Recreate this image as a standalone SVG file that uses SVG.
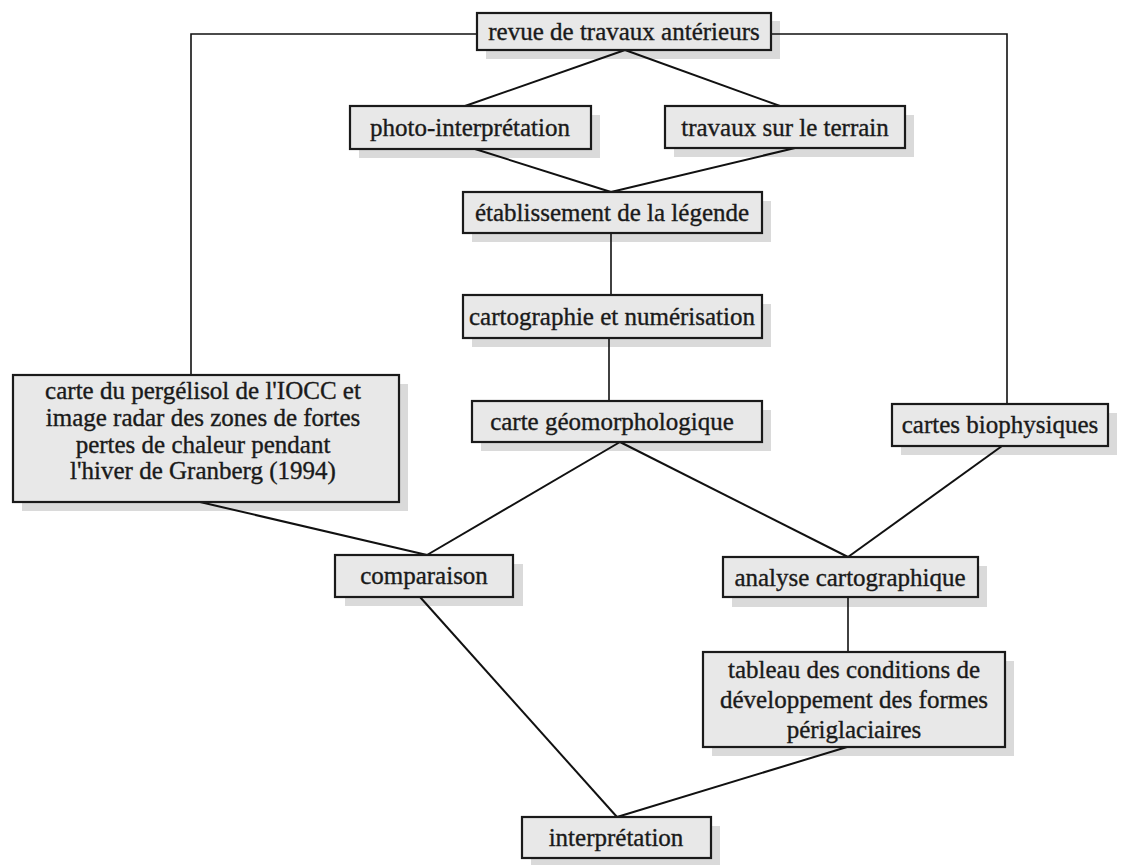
<svg xmlns="http://www.w3.org/2000/svg" width="1122" height="865" viewBox="0 0 1122 865">
<style>
.sh{fill:#dadada}
.bx{fill:#e8e8e8;stroke:#1a1a1a;stroke-width:2.2}
.t{font-family:"Liberation Serif","Times New Roman",serif;font-size:25px;fill:#1a1a1a;stroke:#1a1a1a;stroke-width:0.35;text-anchor:middle}
.c{stroke:#111;stroke-width:2;fill:none}
.b{stroke:#111;stroke-width:1.6;fill:none}
</style>
<rect width="1122" height="865" fill="#fff"/>
<g id="shadows">
<rect class="sh" x="486" y="21" width="294" height="38"/>
<rect class="sh" x="359" y="115" width="241" height="43"/>
<rect class="sh" x="674" y="115" width="240" height="42"/>
<rect class="sh" x="472" y="201" width="299" height="41"/>
<rect class="sh" x="472" y="304" width="299" height="43"/>
<rect class="sh" x="22" y="384" width="386" height="127"/>
<rect class="sh" x="481" y="410" width="290" height="41"/>
<rect class="sh" x="901" y="413" width="216" height="42"/>
<rect class="sh" x="345" y="564" width="178" height="42"/>
<rect class="sh" x="732" y="566" width="255" height="41"/>
<rect class="sh" x="712" y="661" width="302" height="95"/>
<rect class="sh" x="531" y="826" width="189" height="39"/>
</g>
<g id="connectors">
<polyline class="b" points="477,34 191,34 191,375"/>
<polyline class="b" points="771,34 1007,34 1007,404"/>
<line class="c" x1="625" y1="50" x2="465" y2="106"/>
<line class="c" x1="625" y1="50" x2="780" y2="106"/>
<line class="c" x1="475" y1="149" x2="611" y2="192"/>
<line class="c" x1="795" y1="148" x2="611" y2="192"/>
<line class="b" x1="611" y1="233" x2="611" y2="295"/>
<line class="b" x1="609" y1="338" x2="609" y2="401"/>
<line class="c" x1="620" y1="442" x2="427" y2="555"/>
<line class="c" x1="620" y1="442" x2="848" y2="557"/>
<line class="c" x1="1002" y1="446" x2="848" y2="557"/>
<line class="c" x1="200" y1="502" x2="427" y2="555"/>
<line class="b" x1="848" y1="597" x2="848" y2="652"/>
<line class="c" x1="420" y1="597" x2="617" y2="817"/>
<line class="c" x1="847" y1="747" x2="617" y2="817"/>
</g>
<g id="n-revue">
<rect class="bx" x="477" y="13" width="294" height="37"/>
<text class="t" x="624" y="40">revue de travaux antérieurs</text>
</g>
<g id="n-photo">
<rect class="bx" x="350" y="106" width="241" height="43"/>
<text class="t" x="470" y="136">photo-interprétation</text>
</g>
<g id="n-travaux">
<rect class="bx" x="665" y="106" width="240" height="42"/>
<text class="t" x="785" y="136">travaux sur le terrain</text>
</g>
<g id="n-legende">
<rect class="bx" x="463" y="192" width="299" height="41"/>
<text class="t" x="612" y="221">établissement de la légende</text>
</g>
<g id="n-carto">
<rect class="bx" x="463" y="295" width="299" height="43"/>
<text class="t" x="612" y="325">cartographie et numérisation</text>
</g>
<g id="n-pergelisol">
<rect class="bx" x="13" y="375" width="386" height="127"/>
<text class="t" x="203" y="399">carte du pergélisol de l'IOCC et</text>
<text class="t" x="203" y="426">image radar des zones de fortes</text>
<text class="t" x="203" y="453">pertes de chaleur pendant</text>
<text class="t" x="203" y="479">l'hiver de Granberg (1994)</text>
</g>
<g id="n-geomorph">
<rect class="bx" x="472" y="401" width="290" height="41"/>
<text class="t" x="612" y="430">carte géomorphologique</text>
</g>
<g id="n-biophys">
<rect class="bx" x="892" y="404" width="216" height="42"/>
<text class="t" x="1000" y="433">cartes biophysiques</text>
</g>
<g id="n-comparaison">
<rect class="bx" x="335" y="555" width="178" height="42"/>
<text class="t" x="424" y="584">comparaison</text>
</g>
<g id="n-analyse">
<rect class="bx" x="723" y="557" width="255" height="40"/>
<text class="t" x="850" y="586">analyse cartographique</text>
</g>
<g id="n-tableau">
<rect class="bx" x="703" y="652" width="302" height="95"/>
<text class="t" x="854" y="678">tableau des conditions de</text>
<text class="t" x="854" y="708">développement des formes</text>
<text class="t" x="854" y="738">périglaciaires</text>
</g>
<g id="n-interpretation">
<rect class="bx" x="522" y="817" width="189" height="41"/>
<text class="t" x="616" y="846">interprétation</text>
</g>
</svg>
